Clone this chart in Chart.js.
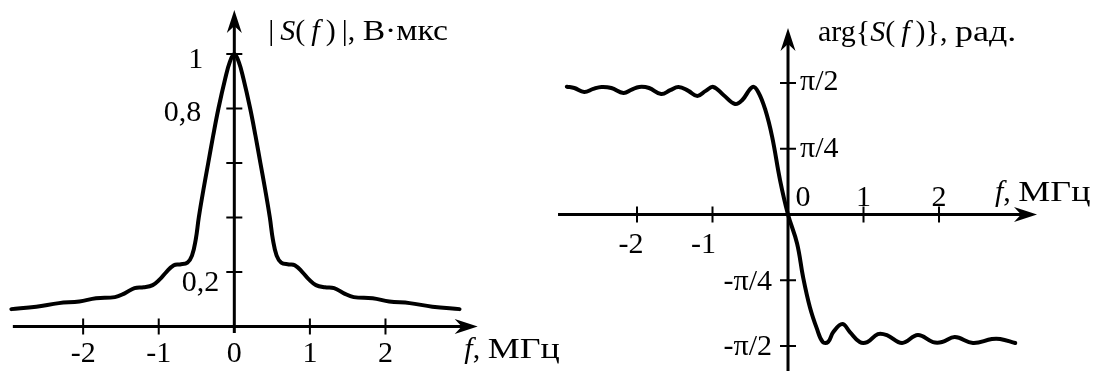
<!DOCTYPE html>
<html>
<head>
<meta charset="utf-8">
<script src="https://cdn.jsdelivr.net/npm/chart.js@4.4.0/dist/chart.umd.min.js"></script>
<style>
  body { margin: 0; background: #fff; }
  #wrap { position: relative; width: 1099px; height: 371px; }
  #wrap canvas { position: absolute; left: 0; top: 0; }
</style>
</head>
<body>
<div id="wrap">
  <canvas id="amp" width="1099" height="371"></canvas>
  <canvas id="phase" width="1099" height="371"></canvas>
</div>
<script>
// |S(f)|, V*us  vs f, MHz
const ampFreq = [-2.95, -2.62, -2.32, -2.05, -1.83, -1.58, -1.45, -1.32, -1.2, -1.08, -0.99, -0.9,
  -0.8, -0.72, -0.62, -0.56, -0.51, -0.47, -0.41, -0.345, -0.28, -0.21, -0.12, -0.06, 0,
  0.06, 0.12, 0.21, 0.28, 0.345, 0.41, 0.47, 0.51, 0.56, 0.62, 0.72, 0.8, 0.9, 0.99, 1.08,
  1.2, 1.32, 1.45, 1.58, 1.83, 2.05, 2.32, 2.62, 2.98];
const ampValue = [0.064, 0.073, 0.086, 0.092, 0.104, 0.108, 0.122, 0.141, 0.144, 0.152, 0.172, 0.2,
  0.225, 0.228, 0.235, 0.26, 0.32, 0.4, 0.5, 0.6, 0.7, 0.8, 0.91, 0.97, 1.0,
  0.97, 0.91, 0.8, 0.7, 0.6, 0.5, 0.4, 0.32, 0.26, 0.235, 0.228, 0.225, 0.2, 0.172, 0.152,
  0.144, 0.141, 0.122, 0.108, 0.104, 0.092, 0.086, 0.073, 0.064];

// arg{S(f)} in units of pi/2
const phaseFreq = [-2.93, -2.83, -2.7, -2.58, -2.47, -2.34, -2.18, -2.07, -1.97, -1.84, -1.68, -1.56,
  -1.45, -1.32, -1.2, -1.09, -0.99, -0.855, -0.7, -0.605, -0.47, -0.395, -0.3, -0.21, -0.105, 0,
  0.12, 0.2, 0.29, 0.38, 0.46, 0.53, 0.6, 0.72, 0.82, 0.95, 1.05, 1.19, 1.31, 1.51, 1.72, 1.92,
  2.04, 2.21, 2.45, 2.7, 2.81, 3.01];
const phaseHalfPi = [0.972, 0.962, 0.932, 0.955, 0.97, 0.962, 0.924, 0.95, 0.97, 0.962, 0.916, 0.945,
  0.97, 0.94, 0.901, 0.94, 0.97, 0.909, 0.84, 0.871, 0.97, 0.932, 0.795, 0.59, 0.26, 0,
  -0.22, -0.477, -0.705, -0.864, -0.97, -0.97, -0.894, -0.833, -0.894, -0.97, -0.97, -0.909, -0.917, -0.977, -0.917, -0.97,
  -0.97, -0.932, -0.977, -0.947, -0.947, -0.977];

// ticks and tick labels
const ampXTicks = [-2, -1, 1, 2];
const ampXLabelValues = [-2, -1, 0, 1, 2];
const ampXLabels = ['-2', '-1', '0', '1', '2'];
const ampYTicks = [0.2, 0.4, 0.6, 0.8, 1];
const ampYLabelValues = [1, 0.8, 0.2];
const ampYLabels = ['1', '0,8', '0,2'];

const phaseXTicks = [-2, -1, 1, 2];
const phaseXLabelValues = [-2, -1, 0, 1, 2];
const phaseXLabels = ['-2', '-1', '0', '1', '2'];
const phaseYTicks = [-1, -0.5, 0.5, 1];
const phaseYLabelValues = [1, 0.5, -0.5, -1];
const phaseYLabels = ['\u03C0/2', '\u03C0/4', '-\u03C0/4', '-\u03C0/2'];

const FONT = '"Liberation Serif", "DejaVu Serif", serif';
const FSIZE = 30;

// runs: [text, italic, horizontal stretch]
function drawRuns(ctx, runs, x, y) {
  ctx.textBaseline = 'middle';
  ctx.textAlign = 'left';
  runs.forEach(r => {
    const sx = r[2] || 1;
    ctx.font = (r[1] ? 'italic ' : '') + FSIZE + 'px ' + FONT;
    ctx.save();
    ctx.translate(x, y);
    ctx.scale(sx, 1);
    ctx.fillText(r[0], 0, 0);
    ctx.restore();
    x += ctx.measureText(r[0]).width * sx;
  });
}

function arrowHead(ctx, tx, ty, dirX, dirY) {
  const L = 23, W = 7.5, N = 16;
  const px = -dirY, py = dirX;
  ctx.beginPath();
  ctx.moveTo(tx, ty);
  ctx.lineTo(tx - dirX * L + px * W, ty - dirY * L + py * W);
  ctx.lineTo(tx - dirX * N, ty - dirY * N);
  ctx.lineTo(tx - dirX * L - px * W, ty - dirY * L - py * W);
  ctx.closePath();
  ctx.fill();
}

const crossAxes = {
  id: 'crossAxes',
  afterDatasetsDraw(chart, args, o) {
    const ctx = chart.ctx;
    const xs = chart.scales.x, ys = chart.scales.y;
    const ox = xs.getPixelForValue(0), oy = ys.getPixelForValue(0);
    ctx.save();
    ctx.strokeStyle = '#000';
    ctx.fillStyle = '#000';
    ctx.lineCap = 'butt';

    // axis lines
    ctx.lineWidth = 3;
    const xa = xs.getPixelForValue(o.xFrom), xb = xs.getPixelForValue(o.xTo);
    const ya = ys.getPixelForValue(o.yFrom), yb = ys.getPixelForValue(o.yTo);
    ctx.beginPath();
    ctx.moveTo(xa, oy); ctx.lineTo(xb - 15, oy);
    ctx.moveTo(ox, ya); ctx.lineTo(ox, yb + 15);
    ctx.stroke();
    arrowHead(ctx, xb, oy, 1, 0);
    arrowHead(ctx, ox, yb, 0, -1);

    // ticks
    ctx.lineWidth = 2;
    ctx.beginPath();
    o.xTicks.forEach(v => {
      const px = xs.getPixelForValue(v);
      ctx.moveTo(px, oy - 8); ctx.lineTo(px, oy + 8);
    });
    o.yTicks.forEach(v => {
      const py = ys.getPixelForValue(v);
      ctx.moveTo(ox - 8, py); ctx.lineTo(ox + 8, py);
    });
    ctx.stroke();

    // tick labels
    ctx.font = FSIZE + 'px ' + FONT;
    ctx.textBaseline = 'middle';
    o.xLabelValues.forEach((v, i) => {
      const p = o.xLabelPos[i];
      ctx.textAlign = 'center';
      ctx.fillText(o.xLabels[i], xs.getPixelForValue(v) + p[0], oy + p[1]);
    });
    o.yLabelValues.forEach((v, i) => {
      const p = o.yLabelPos[i];
      ctx.textAlign = p[2];
      ctx.fillText(o.yLabels[i], ox + p[0], ys.getPixelForValue(v) + p[1]);
    });

    // axis titles
    drawRuns(ctx, o.title, ox + o.titlePos[0], oy + o.titlePos[1]);
    drawRuns(ctx, o.unit, ox + o.unitPos[0], oy + o.unitPos[1]);
    ctx.restore();
  }
};

function makeChart(id, fx, fy, xMin, xMax, yMin, yMax, axesOpts) {
  return new Chart(document.getElementById(id), {
    type: 'line',
    data: {
      datasets: [{
        data: fx.map((f, i) => ({ x: f, y: fy[i] })),
        borderColor: '#000',
        borderWidth: 4,
        pointRadius: 0,
        fill: false,
        tension: 0.4,
        borderCapStyle: 'round',
        borderJoinStyle: 'round'
      }]
    },
    options: {
      responsive: false,
      animation: false,
      events: [],
      layout: { padding: 0 },
      scales: {
        x: { type: 'linear', min: xMin, max: xMax, display: false },
        y: { type: 'linear', min: yMin, max: yMax, display: false }
      },
      plugins: {
        legend: { display: false },
        tooltip: { enabled: false },
        crossAxes: axesOpts
      }
    },
    plugins: [crossAxes]
  });
}

// amplitude spectrum (left)
makeChart('amp', ampFreq, ampValue, -3.1, 11.44, -0.163, 1.198, {
  xFrom: -2.93, xTo: 3.22, yFrom: -0.024, yTo: 1.161,
  xTicks: ampXTicks, yTicks: ampYTicks,
  xLabelValues: ampXLabelValues, xLabels: ampXLabels,
  xLabelPos: [[0, 28], [0, 28], [0, 28], [0, 28], [0, 28]],
  yLabelValues: ampYLabelValues, yLabels: ampYLabels,
  yLabelPos: [[-31, 6, 'right'], [-33, 5, 'right'], [-15, 11, 'right']],
  title: [['|\u2009', 0], ['S', 1], ['(\u2009', 0], ['f', 1], ['\u2009)\u2009|, ', 0], ['В·мкс', 0, 1.12]],
  titlePos: [34, -294.5],
  unit: [['f', 1], [', ', 0], ['МГц', 0, 1.2]],
  unitPos: [230, 24]
});

// phase spectrum (right)
makeChart('phase', phaseFreq, phaseHalfPi, -10.437, 4.119, -1.19, 1.631, {
  xFrom: -3.046, xTo: 3.298, yFrom: -1.19, yTo: 1.418,
  xTicks: phaseXTicks, yTicks: phaseYTicks,
  xLabelValues: phaseXLabelValues, xLabels: phaseXLabels,
  xLabelPos: [[-6, 30.5], [-9, 30.5], [15, -16.5], [0, -16.5], [0, -16.5]],
  yLabelValues: phaseYLabelValues, yLabels: phaseYLabels,
  yLabelPos: [[12, -1, 'left'], [12, 0, 'left'], [-16, 2, 'right'], [-16, 1, 'right']],
  title: [['arg{', 0], ['S', 1], ['(\u2009', 0], ['f', 1], ['\u2009)}, ', 0], ['рад.', 0, 1.2]],
  titlePos: [30, -181.5],
  unit: [['f', 1], [', ', 0], ['МГц', 0, 1.2]],
  unitPos: [207, -21.5]
});
</script>
</body>
</html>
